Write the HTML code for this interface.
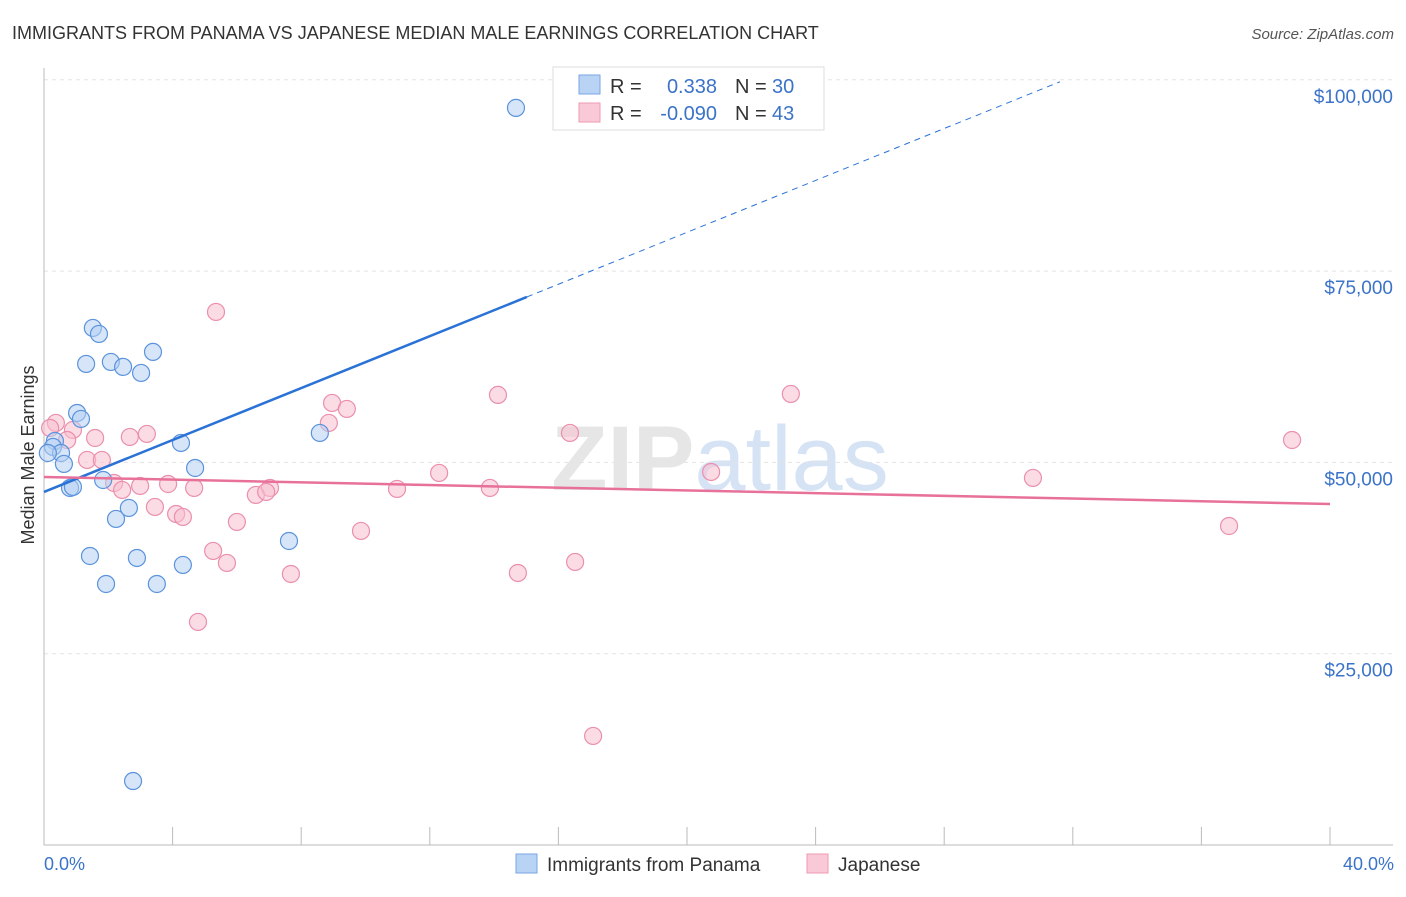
<!DOCTYPE html>
<html><head><meta charset="utf-8"><style>
body{margin:0;background:#fff;font-family:"Liberation Sans",sans-serif;}
svg text{font-family:"Liberation Sans",sans-serif;}
</style></head><body>
<svg id="chart" width="1406" height="892" xmlns="http://www.w3.org/2000/svg">
<text x="12" y="39" font-size="18" fill="#333">IMMIGRANTS FROM PANAMA VS JAPANESE MEDIAN MALE EARNINGS CORRELATION CHART</text>
<text x="1394" y="39" font-size="15" fill="#555" text-anchor="end" font-style="italic">Source: ZipAtlas.com</text>
<text x="720" y="490" font-size="92" text-anchor="middle" fill="#e6e6e6" font-family="Liberation Serif" font-weight="bold">ZIP<tspan fill="#d5e3f5" font-family="Liberation Sans" font-weight="normal">atlas</tspan></text>
<g id="grid"></g>
<g id="axes"></g>
<g id="marks"></g>
<text transform="translate(34,455) rotate(-90)" font-size="18" fill="#333" text-anchor="middle">Median Male Earnings</text>
<text x="44" y="870" font-size="18" fill="#3b73c9">0.0%</text>
<text x="1394" y="870" font-size="18" fill="#3b73c9" text-anchor="end">40.0%</text>
<g>
<rect x="553" y="67" width="271" height="63" fill="#fff" stroke="#ddd"/>
<rect x="579" y="75" width="21" height="19" fill="#b9d3f5" stroke="#7aa6e3"/>
<rect x="579" y="103" width="21" height="19" fill="#fac9d7" stroke="#ee9ab3"/>
<text x="610" y="93" font-size="20" fill="#333">R =</text>
<text x="717" y="93" font-size="20" fill="#3b73c9" text-anchor="end">0.338</text>
<text x="735" y="93" font-size="20" fill="#333">N =</text>
<text x="772" y="93" font-size="20" fill="#3b73c9">30</text>
<text x="610" y="120" font-size="20" fill="#333">R =</text>
<text x="717" y="120" font-size="20" fill="#3b73c9" text-anchor="end">-0.090</text>
<text x="735" y="120" font-size="20" fill="#333">N =</text>
<text x="772" y="120" font-size="20" fill="#3b73c9">43</text>
</g>
<g>
<rect x="516" y="854" width="21" height="19" fill="#b9d3f5" stroke="#7aa6e3"/>
<text x="547" y="871" font-size="19" fill="#333">Immigrants from Panama</text>
<rect x="807" y="854" width="21" height="19" fill="#fac9d7" stroke="#ee9ab3"/>
<text x="838" y="871" font-size="19" fill="#333">Japanese</text>
</g>
</svg>
<script>
const yTicks=[25000,50000,75000,100000];
const yTickLabels=["$25,000","$50,000","$75,000","$100,000"];
const xTicks=[0,4,8,12,16,20,24,28,32,36,40];
const panamaX=[14.68,1.52,1.71,3.39,1.31,2.08,2.46,3.02,1.03,1.15,8.58,4.26,0.34,0.28,0.53,0.12,0.62,4.70,1.84,0.81,0.90,2.64,2.24,7.62,1.43,2.89,4.32,1.93,3.51,2.77];
const panamaY=[96330,67570,66790,64440,62870,63130,62480,61690,56460,55680,53850,52540,52800,52020,51230,51230,49800,49270,47700,46660,46790,44050,42610,39730,37770,37510,36600,34110,34110,8360];
const japX=[5.35,14.12,23.23,8.96,9.42,8.86,0.37,0.19,0.90,1.59,2.67,3.20,16.36,38.82,0.72,1.34,1.80,12.29,20.75,30.76,2.18,2.99,3.86,4.67,2.43,7.03,6.59,10.98,13.87,3.45,4.11,4.32,6.00,36.86,9.86,5.26,5.69,7.68,14.74,16.52,4.79,17.08,6.91];
const japY=[69660,58820,58950,57770,56990,55160,55160,54500,54240,53190,53330,53720,53850,52930,52930,50320,50320,48620,48750,47970,47310,46920,47180,46660,46400,46660,45750,46530,46660,44180,43260,42870,42220,41690,41040,38430,36860,35420,35550,36990,29150,14250,46140];
const panamaTrend=[0,46140,15.02,71620,31.6,99740];
const japTrend=[0,48100,40,44570];
const X0=44,XS=32.15,Y0=845,YS=191.3/25000;
const sx=v=>X0+v*XS, sy=v=>Y0-v*YS;
const NS="http://www.w3.org/2000/svg";
function mk(tag,attrs,parent){const e=document.createElementNS(NS,tag);for(const k in attrs)e.setAttribute(k,attrs[k]);parent.appendChild(e);return e;}
const grid=document.getElementById('grid'),axes=document.getElementById('axes'),marks=document.getElementById('marks');
yTicks.forEach((t,i)=>{
 const l=mk('line',{x1:44,x2:1393,y1:sy(t),y2:sy(t),stroke:'#e3e3e3','stroke-dasharray':'4,4'},grid);
 
 
 const tx=mk('text',{x:1393,y:sy(t)+23,'font-size':19,fill:'#3b73c9','text-anchor':'end'},axes);
 tx.textContent=yTickLabels[i];
 
 
});
const ax=mk('line',{x1:44,x2:44,y1:68,y2:845,stroke:'#bbb'},axes);


const bx=mk('line',{x1:44,x2:1393,y1:845,y2:845,stroke:'#bbb'},axes);


xTicks.forEach(t=>{
 const l=mk('line',{x1:sx(t),x2:sx(t),y1:827,y2:845,stroke:'#bbb'},axes);
 
 
});
function pts(xs,ys,fill,stroke,name){
 xs.forEach((x,i)=>{
  const c=mk('circle',{cx:sx(x),cy:sy(ys[i]),r:8.5,fill:fill,'fill-opacity':0.55,stroke:stroke,'stroke-width':1.2},marks);
  
  
 });
}
pts(japX,japY,'#f8bfd0','#eb8fac','japanese-point');
pts(panamaX,panamaY,'#b4cff3','#5b93dc','panama-point');
const b1=mk('line',{x1:sx(panamaTrend[0]),y1:sy(panamaTrend[1]),x2:sx(panamaTrend[2]),y2:sy(panamaTrend[3]),stroke:'#2a72d6','stroke-width':2.5},marks);


const b2=mk('line',{x1:sx(panamaTrend[2]),y1:sy(panamaTrend[3]),x2:sx(panamaTrend[4]),y2:sy(panamaTrend[5]),stroke:'#2a72d6','stroke-width':1,'stroke-dasharray':'6,5'},marks);


const p1=mk('line',{x1:sx(japTrend[0]),y1:sy(japTrend[1]),x2:sx(japTrend[2]),y2:sy(japTrend[3]),stroke:'#e8719a','stroke-width':2.5},marks);


</script>
</body></html>
